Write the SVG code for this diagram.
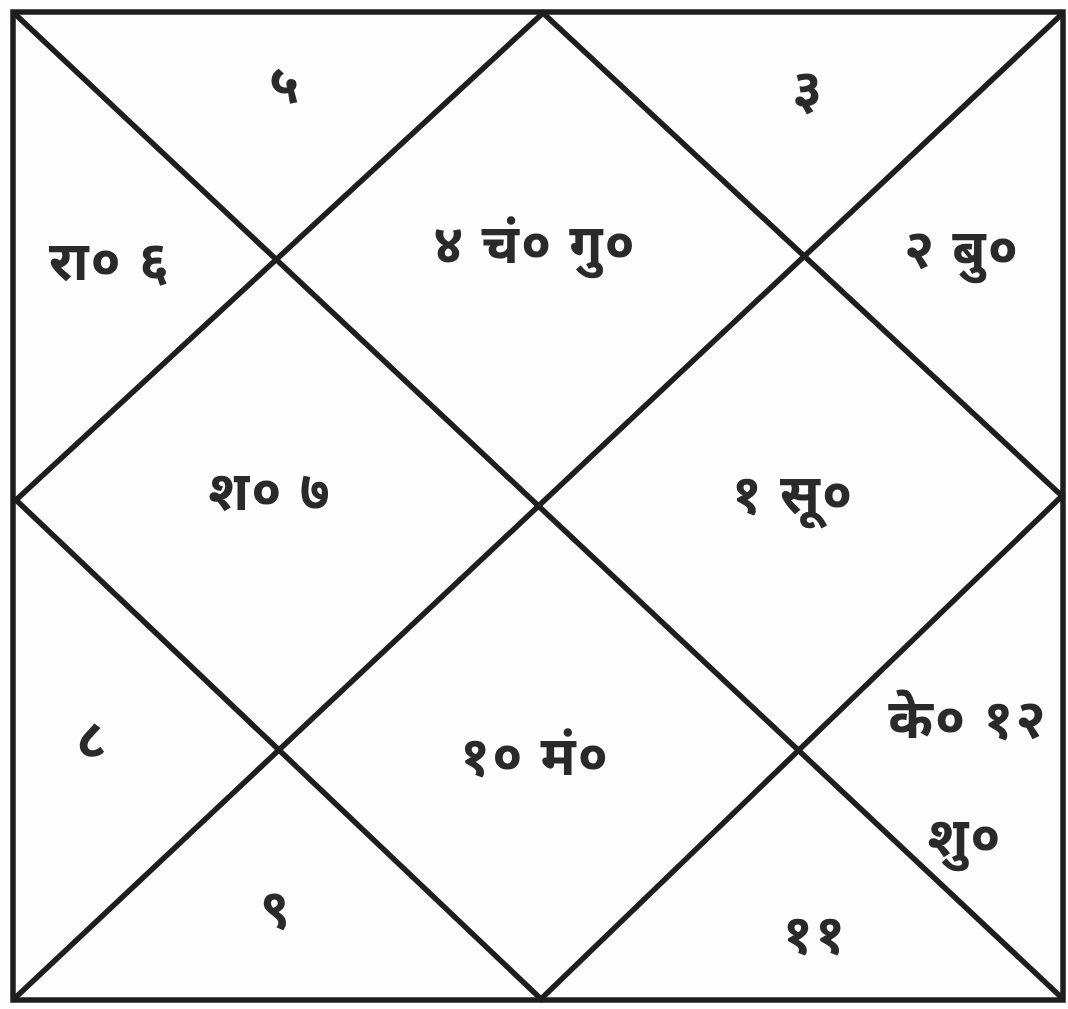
<svg xmlns="http://www.w3.org/2000/svg" width="1068" height="1009" viewBox="0 0 1068 1009">
<style>
.ln{stroke:#1e1e1e;stroke-width:5.5;fill:none;stroke-linecap:round}
.t{font-family:"Noto Sans","Noto Sans CJK SC",sans-serif;font-size:54px;font-weight:bold;fill:#2a2a2a;text-anchor:middle;letter-spacing:2px}
</style>
<rect width="1068" height="1009" fill="#fdfdfd"/>
<g id="connectors">
<rect class="ln" x="13" y="12" width="1050" height="988"/>
<line class="ln" x1="15" y1="14" x2="1062" y2="998"/>
<line class="ln" x1="1062" y1="14" x2="15" y2="998"/>
<polygon class="ln" points="543,13 1062,496 541,999 16,500"/>
</g>
<g id="h5"><text class="t" x="285" y="103">५</text></g>
<g id="h3"><text class="t" x="808" y="108">३</text></g>
<g id="h6"><text class="t" x="110" y="280">रा० ६</text></g>
<g id="h4"><text class="t" x="535" y="263">४ चं० गु०</text></g>
<g id="h2"><text class="t" x="962" y="268">२ बु०</text></g>
<g id="h7"><text class="t" x="270" y="510">श० ७</text></g>
<g id="h1"><text class="t" x="793" y="513">१ सू०</text></g>
<g id="h12"><text class="t" x="968" y="738">के० १२</text><text class="t" x="965" y="856">शु०</text></g>
<g id="h10"><text class="t" x="535" y="775">१० मं०</text></g>
<g id="h8"><text class="t" x="92" y="758">८</text></g>
<g id="h9"><text class="t" x="276" y="928">९</text></g>
<g id="h11"><text class="t" x="815" y="953">११</text></g>
</svg>
